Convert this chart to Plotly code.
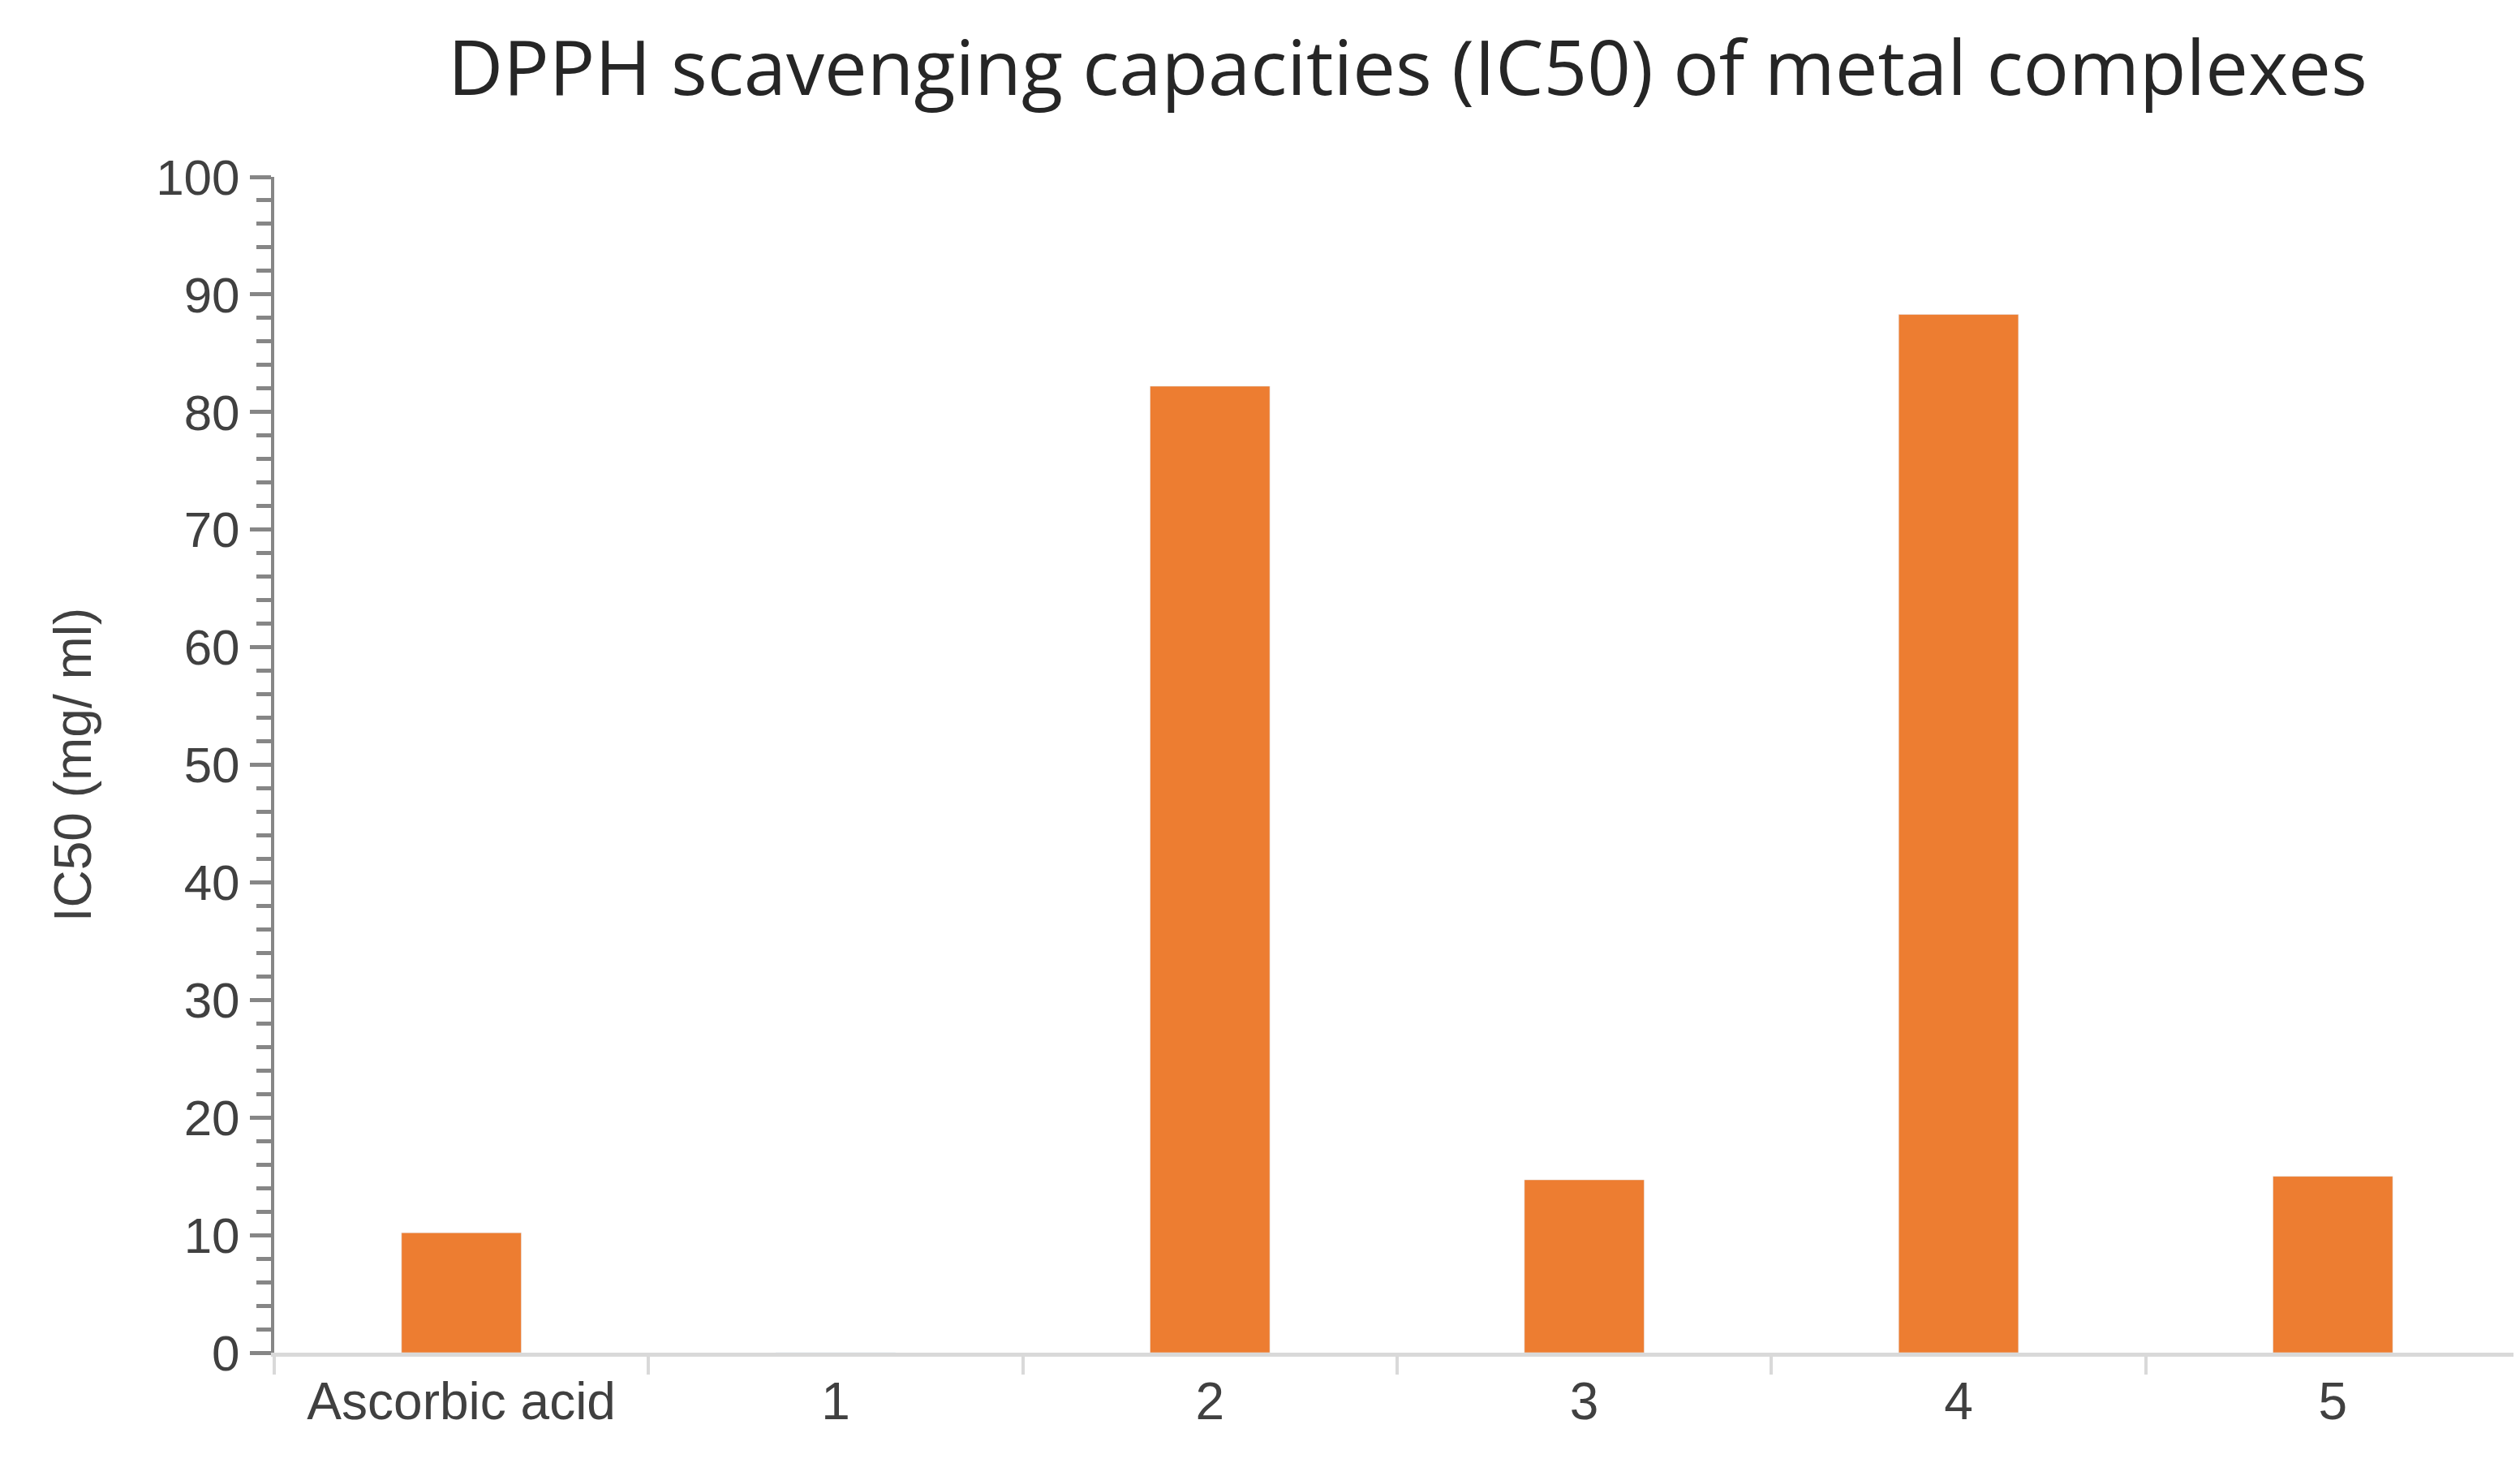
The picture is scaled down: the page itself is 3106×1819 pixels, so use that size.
import plotly.graph_objects as go

categories = ["Ascorbic acid", "1", "2", "3", "4", "5"]
ic50 = [10.2, 0, 82.2, 14.7, 88.3, 15.0]

fig = go.Figure(go.Bar(x=categories, y=ic50, marker_color="#ED7D31", width=0.32))
fig.update_layout(
    width=3106, height=1819, plot_bgcolor="white", paper_bgcolor="white",
    margin=dict(l=330, r=8, t=210, b=160),
    title=dict(text="DPPH scavenging capacities (IC50) of metal complexes", x=0.556, xanchor="center",
               y=0.958, yanchor="middle", font=dict(family="Open Sans", size=94, color="#262626")),
    font=dict(family="Liberation Sans", color="#404040"),
    showlegend=False,
)
fig.update_xaxes(type="category", showline=True, linecolor="#D9D9D9", linewidth=5,
                 ticks="outside", tickson="boundaries", ticklen=22, tickwidth=4, tickcolor="#D9D9D9",
                 tickfont=dict(size=64, color="#404040"), showgrid=False)
fig.update_yaxes(range=[0, 100], dtick=10, showline=True, linecolor="#868686", linewidth=4,
                 ticks="outside", ticklen=26, tickwidth=5, tickcolor="#868686",
                 minor=dict(tickmode="array", tickvals=[v for v in range(0, 101, 2) if v % 10],
                            ticks="outside", ticklen=18, tickwidth=5, tickcolor="#868686"),
                 showgrid=False, zeroline=False, tickfont=dict(size=62, color="#404040"),
                 title=dict(text="IC50 (mg/ ml)", font=dict(size=64, color="#404040"), standoff=60))
fig.write_html("out.html")
